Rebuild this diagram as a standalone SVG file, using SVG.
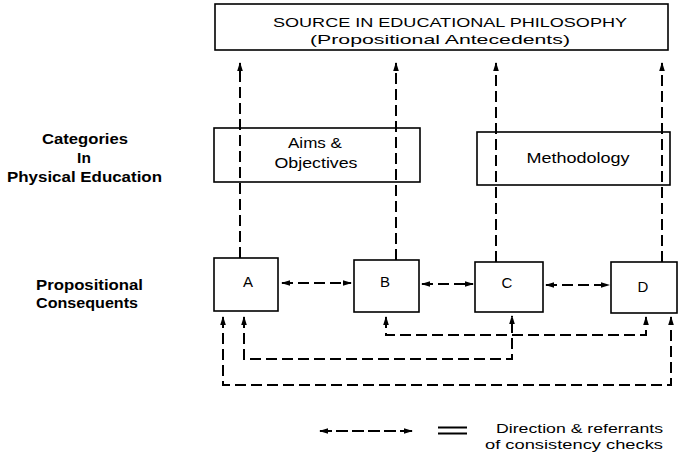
<svg xmlns="http://www.w3.org/2000/svg" width="681" height="455" viewBox="0 0 681 455">
<defs>
<marker id="ah" markerUnits="userSpaceOnUse" markerWidth="9" markerHeight="7" refX="8" refY="3.5" orient="auto-start-reverse">
<path d="M0,0.7 L9,3.5 L0,6.3 z" fill="#000"/>
</marker>
</defs>
<style>
.box{fill:#fff;stroke:#000;stroke-width:1.6}
.t{font-family:"Liberation Sans",Arial,sans-serif;font-size:15px;fill:#000;text-anchor:middle}
.s{font-size:13.5px}
.b{font-weight:bold;font-size:15.5px}
.dash{fill:none;stroke:#000;stroke-width:2;stroke-dasharray:11,5}
.arr{marker-end:url(#ah)}
.both{marker-start:url(#ah);marker-end:url(#ah)}
</style>
<rect width="681" height="455" fill="#fff"/>

<g id="source">
<rect class="box" x="215" y="4" width="453" height="46"/>
<text class="t s" x="450" y="27" textLength="354" lengthAdjust="spacingAndGlyphs">SOURCE IN EDUCATIONAL PHILOSOPHY</text>
<text class="t s" x="440" y="44" textLength="260" lengthAdjust="spacingAndGlyphs">(Propositional Antecedents)</text>
</g>

<g id="aims">
<rect class="box" x="214" y="128" width="206" height="54"/>
<text class="t" x="315" y="148" textLength="54" lengthAdjust="spacingAndGlyphs">Aims &amp;</text>
<text class="t" x="316" y="168" textLength="83" lengthAdjust="spacingAndGlyphs">Objectives</text>
</g>

<g id="methodology">
<rect class="box" x="477" y="132" width="193" height="53"/>
<text class="t" x="578" y="163" textLength="103" lengthAdjust="spacingAndGlyphs">Methodology</text>
</g>

<g id="label-categories">
<text class="t b" x="85" y="144" textLength="86" lengthAdjust="spacingAndGlyphs">Categories</text>
<text class="t b" x="84" y="163">In</text>
<text class="t b" x="84.5" y="182" textLength="155" lengthAdjust="spacingAndGlyphs">Physical Education</text>
</g>

<g id="label-consequents">
<text class="t b" x="89.5" y="290" textLength="107" lengthAdjust="spacingAndGlyphs">Propositional</text>
<text class="t b" x="87" y="308" textLength="102" lengthAdjust="spacingAndGlyphs">Consequents</text>
</g>

<g id="connectors">
<path class="dash arr" d="M240,258 V63"/>
<path class="dash arr" d="M396,260 V63"/>
<path class="dash arr" d="M496,262 V63"/>
<path class="dash arr" d="M662,262 V63"/>
<path class="dash both" d="M282,283 H351"/>
<path class="dash both" d="M422,284 H473"/>
<path class="dash both" d="M546,285 H609"/>
<path class="dash both" d="M386,317 V335 H646 V317"/>
<path class="dash both" d="M244,317 V359 H512 V316"/>
<path class="dash both" d="M223,317 V385 H671 V317"/>
</g>

<g id="A">
<rect class="box" x="214" y="258" width="64" height="53"/>
<text class="t" x="248" y="287">A</text>
</g>
<g id="B">
<rect class="box" x="354" y="260" width="65" height="52"/>
<text class="t" x="385" y="287">B</text>
</g>
<g id="C">
<rect class="box" x="475" y="262" width="68" height="50"/>
<text class="t" x="507" y="288">C</text>
</g>
<g id="D">
<rect class="box" x="611" y="262" width="66" height="51"/>
<text class="t" x="643" y="292">D</text>
</g>

<g id="legend">
<path class="dash both" d="M320,431 H412" style="stroke-dasharray:12,4"/>
<path d="M438,427.5 H467 M438,433.5 H467" stroke="#000" stroke-width="2" fill="none"/>
<text class="t s" x="579.5" y="433" textLength="167" lengthAdjust="spacingAndGlyphs">Direction &amp; referrants</text>
<text class="t s" x="574" y="449" textLength="178" lengthAdjust="spacingAndGlyphs">of consistency checks</text>
</g>
</svg>
